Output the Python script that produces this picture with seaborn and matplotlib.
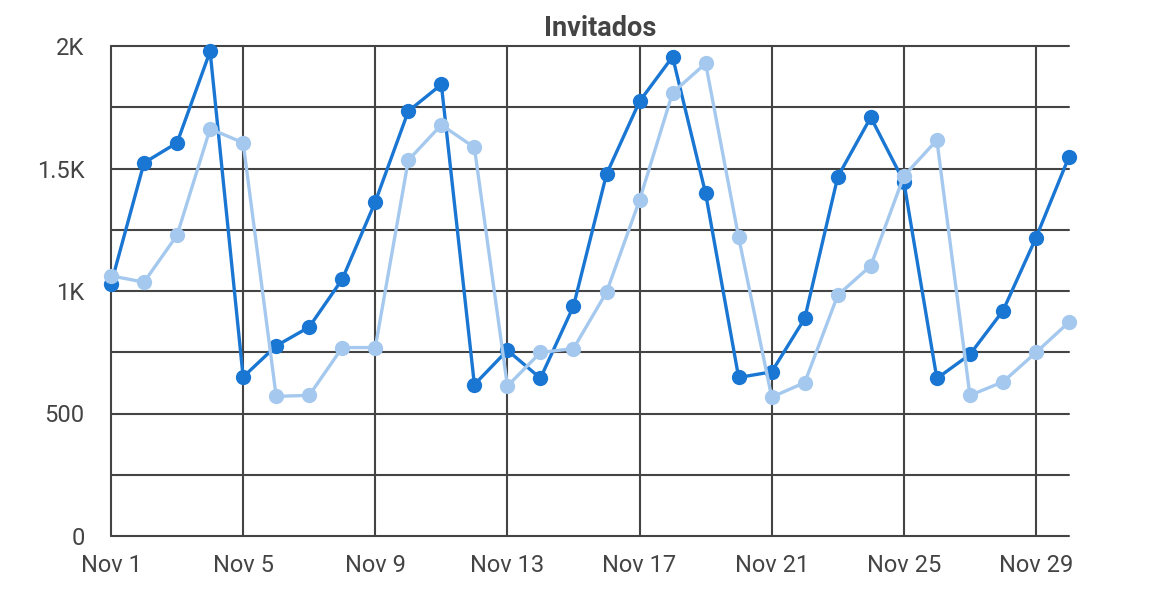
import numpy as np
import pandas as pd
import seaborn as sb
import matplotlib
matplotlib.use('agg')
import matplotlib.pyplot as plt

# values, one per day in November
days = list(range(1, 31))
dark = [1028, 1523, 1605, 1978, 649, 776, 853, 1048, 1364, 1734,
        1843, 618, 758, 644, 938, 1477, 1774, 1956, 1398, 647,
        670, 888, 1466, 1709, 1446, 643, 741, 919, 1217, 1548]
light = [1062, 1036, 1228, 1662, 1605, 570, 574, 769, 769, 1534,
         1678, 1586, 612, 749, 765, 995, 1371, 1809, 1929, 1219,
         567, 626, 983, 1103, 1469, 1616, 574, 629, 749, 873]
seriesNames = ['A', 'B']
xTicks = [1, 5, 9, 13, 17, 21, 25, 29]
xLabels = ['Nov ' + str(d) for d in xTicks]
yTicks = [0, 500, 1000, 1500, 2000]
yLabels = ['0', '500', '1K', '1.5K', '2K']
title = 'Invitados'

df = pd.DataFrame({
    'day': days + days,
    'value': dark + light,
    'series': [seriesNames[0]] * len(days) + [seriesNames[1]] * len(days),
})

sb.set_style('white')
plt.rcParams['font.family'] = ['Roboto', 'DejaVu Sans']

fig = plt.figure(figsize=(11.57, 5.90), dpi=100)
ax = fig.add_axes([111 / 1157, 54 / 590, 958 / 1157, 490 / 590])

gridColor = '#444444'
for x in xTicks:
    ax.axvline(x, color=gridColor, lw=1.5, zorder=0)
for y in np.arange(0, 2001, 250):
    ax.axhline(y, color=gridColor, lw=1.5, zorder=0)

sb.lineplot(data=df, x='day', y='value', hue='series', hue_order=seriesNames,
            palette=['#1976D2', '#A5C9EE'], marker='o', markersize=11,
            markeredgewidth=0, linewidth=2.4, legend=False, ax=ax)
for line in ax.get_lines():
    line.set_clip_on(False)

ax.set_xlim(1, 30)
ax.set_ylim(0, 2000)
ax.set_xticks(xTicks)
ax.set_xticklabels(xLabels)
ax.set_yticks(yTicks)
ax.set_yticklabels(yLabels)
ax.tick_params(axis='both', length=0, labelsize=17, colors='#444444')
ax.tick_params(axis='x', pad=13)
ax.tick_params(axis='y', pad=19)
ax.set_xlabel('')
ax.set_ylabel('')
for s in ax.spines.values():
    s.set_visible(False)

fig.text(600.5 / 1157, (590 - 35.7) / 590, title, ha='center', va='baseline',
         fontsize=19.5, fontweight='bold', color='#444444')

plt.savefig('out.png', dpi=100)
plt.close()
